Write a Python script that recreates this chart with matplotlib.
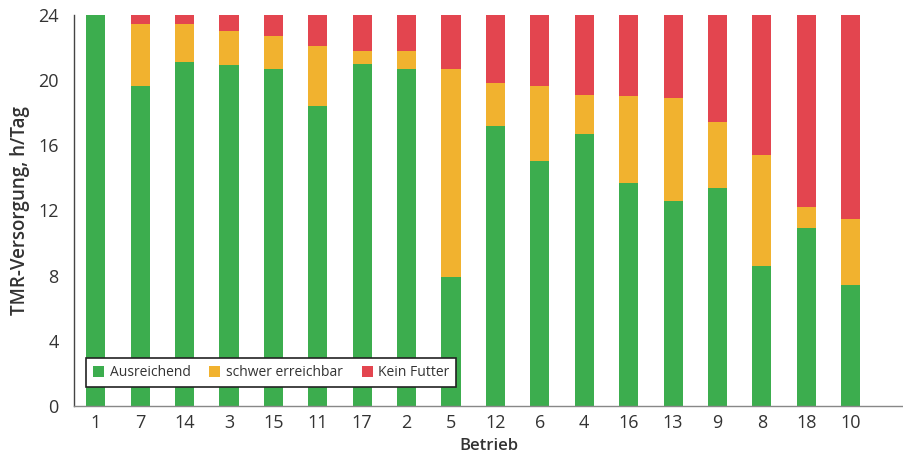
import matplotlib.pyplot as plt
import numpy as np

plt.rcParams['font.family'] = ['Open Sans', 'DejaVu Sans']

# Betriebe, sortiert nach Anteil "Kein Futter"
betriebe = ['1', '7', '14', '3', '15', '11', '17', '2', '5',
            '12', '6', '4', '16', '13', '9', '8', '18', '10']

# Stunden pro Tag je Kategorie
ausreichend = [24.0, 19.6, 21.1, 20.9, 20.7, 18.4, 21.0, 20.7, 7.9,
               17.2, 15.0, 16.7, 13.7, 12.6, 13.4, 8.6, 10.9, 7.4]
schwer = [0.0, 3.8, 2.3, 2.1, 2.0, 3.7, 0.8, 1.1, 12.8,
          2.6, 4.6, 2.4, 5.3, 6.3, 4.0, 6.8, 1.3, 4.1]
kein_futter = [0.0, 0.6, 0.6, 1.0, 1.3, 1.9, 2.2, 2.2, 3.3,
               4.2, 4.4, 4.9, 5.0, 5.1, 6.6, 8.6, 11.8, 12.5]

gruen = '#3cad4e'
gelb = '#f1b22f'
rot = '#e3454f'

fig = plt.figure(figsize=(9.04, 4.59), dpi=100)
ax = fig.add_axes([74 / 904, 1 - 406 / 459, 830 / 904, 391.3 / 459])

x = np.arange(len(betriebe))
a = np.array(ausreichend)
s = np.array(schwer)
k = np.array(kein_futter)
w = 0.43
ax.bar(x, a, w, color=gruen, label='Ausreichend')
ax.bar(x, s, w, bottom=a, color=gelb, label='schwer erreichbar')
ax.bar(x, k, w, bottom=a + s, color=rot, label='Kein Futter')

ax.set_xlim(-0.49, 18.2)
ax.set_ylim(0, 24)
ax.set_yticks([0, 4, 8, 12, 16, 20, 24])
ax.set_xticks(x)
ax.set_xticklabels(betriebe)
ax.tick_params(axis='both', length=0, labelsize=13, colors='#333333')
ax.tick_params(axis='y', pad=11)
ax.tick_params(axis='x', pad=6)

for side in ['top', 'right']:
    ax.spines[side].set_visible(False)
ax.spines['left'].set_color('#444444')
ax.spines['left'].set_linewidth(1.0)
ax.spines['bottom'].set_color('#888888')
ax.spines['bottom'].set_linestyle((0, (2, 1)))
ax.spines['bottom'].set_linewidth(1.0)

ax.set_ylabel('TMR-Versorgung, h/Tag', fontsize=13.5, fontweight='semibold',
              color='#333333', labelpad=6)
ax.set_xlabel('Betrieb', fontsize=12, fontweight='semibold',
              color='#333333', labelpad=4)

leg = ax.legend(loc='lower left', bbox_to_anchor=(0.0145, 0.0486),
                borderaxespad=0, ncol=3, fontsize=10, fancybox=False,
                framealpha=1, edgecolor='#222222', handlelength=0.8,
                handleheight=0.8, handletextpad=0.4, columnspacing=1.35,
                borderpad=0.5)
leg.get_frame().set_linewidth(1.2)
for t in leg.get_texts():
    t.set_color('#333333')

fig.savefig('out.png', dpi=100)
